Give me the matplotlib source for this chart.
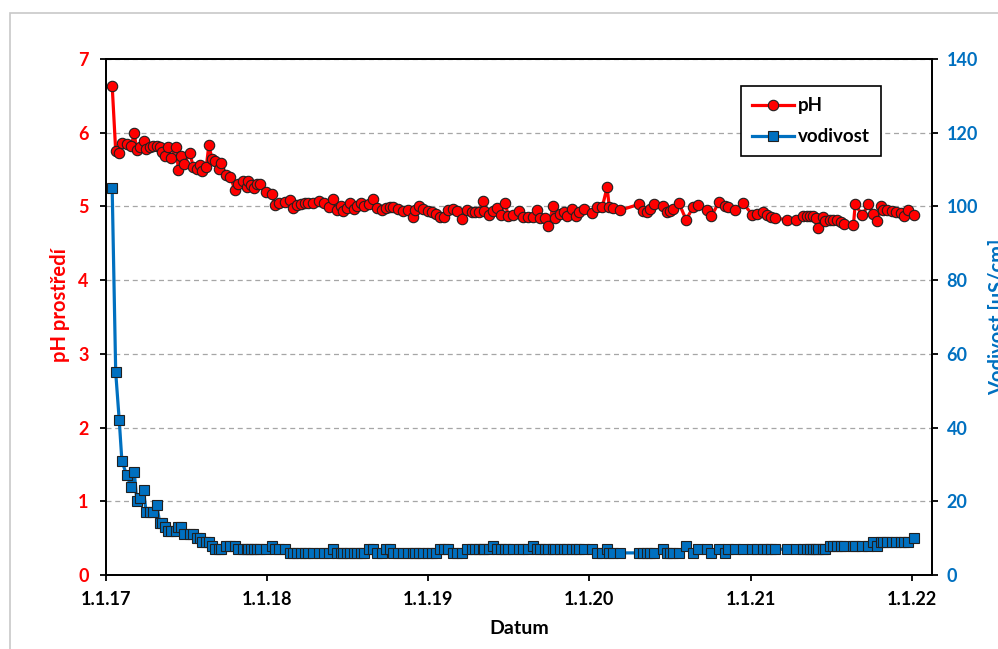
import pandas as pd
import matplotlib.pyplot as plt
from matplotlib.patches import Rectangle

plt.rcParams['font.family'] = ['Lato', 'DejaVu Sans']
plt.rcParams['font.weight'] = 'bold'

# days since 1.1.2017
days = [14, 22, 30, 36, 47, 57, 64, 70, 77, 85, 91, 100, 107, 115, 122, 128, 134, 141, 147, 159,
        164, 169, 177, 190, 198, 206, 213, 218, 227, 233, 240, 247, 255, 261, 272, 282, 292, 300, 310, 319,
        322, 328, 335, 341, 349, 363, 375, 383, 392, 406, 417, 424, 433, 442, 451, 458, 469, 483, 494, 505,
        514, 523, 532, 537, 546, 553, 562, 569, 578, 585, 596, 605, 614, 625, 634, 644, 650, 662, 673, 684,
        696, 700, 709, 718, 730, 739, 748, 757, 766, 775, 786, 795, 807, 818, 829, 836, 845, 854, 857, 868,
        877, 886, 895, 904, 911, 922, 936, 945, 956, 968, 977, 983, 995, 1002, 1013, 1017, 1029, 1038, 1045, 1056,
        1065, 1072, 1083, 1101, 1113, 1124, 1135, 1140, 1149, 1165, 1208, 1217, 1226, 1233, 1242, 1262, 1271, 1278, 1285, 1298,
        1314, 1330, 1341, 1362, 1371, 1389, 1403, 1409, 1425, 1443, 1464, 1475, 1489, 1498, 1507, 1516, 1543, 1563, 1579, 1588,
        1595, 1602, 1609, 1613, 1625, 1629, 1641, 1647, 1656, 1665, 1672, 1693, 1697, 1713, 1727, 1738, 1747, 1756, 1761, 1770,
        1781, 1790, 1801, 1808, 1817, 1831]

ph = [6.64, 5.75, 5.73, 5.86, 5.85, 5.82, 5.99, 5.76, 5.80, 5.89, 5.78, 5.81, 5.82, 5.82, 5.80, 5.74, 5.69, 5.80, 5.66, 5.80,
      5.49, 5.68, 5.58, 5.72, 5.53, 5.51, 5.56, 5.48, 5.53, 5.83, 5.65, 5.61, 5.51, 5.59, 5.42, 5.40, 5.22, 5.30, 5.34, 5.27,
      5.35, 5.29, 5.25, 5.31, 5.30, 5.20, 5.17, 5.02, 5.05, 5.06, 5.09, 4.98, 5.02, 5.03, 5.04, 5.05, 5.05, 5.08, 5.04, 4.99,
      5.10, 4.95, 5.00, 4.94, 4.98, 5.04, 4.96, 5.01, 5.04, 5.01, 5.03, 5.10, 4.98, 4.95, 4.98, 4.99, 4.99, 4.97, 4.94, 4.95,
      4.86, 4.95, 5.00, 4.96, 4.94, 4.92, 4.90, 4.86, 4.86, 4.95, 4.96, 4.94, 4.83, 4.95, 4.93, 4.92, 4.93, 5.08, 4.94, 4.89,
      4.94, 4.98, 4.89, 5.05, 4.87, 4.89, 4.94, 4.86, 4.86, 4.86, 4.95, 4.84, 4.84, 4.73, 5.01, 4.84, 4.90, 4.93, 4.87, 4.96,
      4.87, 4.93, 4.96, 4.91, 4.99, 4.99, 5.26, 4.99, 4.98, 4.95, 5.03, 4.94, 4.93, 4.96, 5.03, 5.01, 4.92, 4.94, 4.96, 5.04,
      4.82, 4.99, 5.02, 4.95, 4.87, 5.06, 5.00, 4.99, 4.95, 5.04, 4.89, 4.90, 4.92, 4.89, 4.85, 4.84, 4.82, 4.81, 4.87, 4.87,
      4.87, 4.87, 4.84, 4.71, 4.85, 4.80, 4.82, 4.81, 4.81, 4.79, 4.76, 4.75, 5.03, 4.88, 5.03, 4.90, 4.80, 5.00, 4.95, 4.95,
      4.94, 4.93, 4.91, 4.87, 4.95, 4.88]

vodivost = [105, 55, 42, 31, 27, 24, 28, 20, 21, 23, 17, 17, 17, 19, 14, 14, 13, 12, 12, 12,
            13, 13, 11, 11, 11, 10, 10, 9, 9, 9, 8, 7, 7, 7, 8, 8, 8, 7, 7, 7,
            7, 7, 7, 7, 7, 7, 8, 7, 7, 7, 6, 6, 6, 6, 6, 6, 6, 6, 6, 6,
            7, 6, 6, 6, 6, 6, 6, 6, 6, 6, 7, 7, 6, 6, 7, 7, 6, 6, 6, 6,
            6, 6, 6, 6, 6, 6, 6, 7, 7, 7, 6, 6, 6, 7, 7, 7, 7, 7, 7, 7,
            8, 7, 7, 7, 7, 7, 7, 7, 7, 8, 7, 7, 7, 7, 7, 7, 7, 7, 7, 7,
            7, 7, 7, 7, 6, 6, 7, 6, 6, 6, 6, 6, 6, 6, 6, 7, 6, 6, 6, 6,
            8, 6, 7, 7, 6, 7, 6, 7, 7, 7, 7, 7, 7, 7, 7, 7, 7, 7, 7, 7,
            7, 7, 7, 7, 7, 7, 8, 8, 8, 8, 8, 8, 8, 8, 8, 9, 8, 9, 9, 9,
            9, 9, 9, 9, 9, 10]

start = pd.Timestamp('2017-01-01')
dates = start + pd.to_timedelta(days, unit='D')

red = '#FF0000'
blue = '#0070C0'

fig = plt.figure(figsize=(9.98, 6.49), dpi=100)
ax = fig.add_axes([0.1062, 0.1140, 0.8277, 0.7951])
ax2 = ax.twinx()

# light grey outer frame (open to the right and bottom)
fig.patches.append(Rectangle((0.010, -0.1), 1.2, 1.08, transform=fig.transFigure,
                             fill=False, edgecolor='#C8C8C8', linewidth=1.2))

ax.yaxis.grid(True, linestyle=(0, (4, 3)), color='#A6A6A6', linewidth=0.9)
ax.set_axisbelow(True)

l1, = ax.plot(dates, ph, color=red, linewidth=2.3, marker='o', markersize=7.5,
              markerfacecolor=red, markeredgecolor='#202020', markeredgewidth=0.8, label='pH')
l2, = ax2.plot(dates, vodivost, color=blue, linewidth=2.3, marker='s', markersize=6.8,
               markerfacecolor=blue, markeredgecolor='#202020', markeredgewidth=0.8, label='vodivost')

ax.set_xlim(pd.Timestamp('2017-01-01'), pd.Timestamp('2022-02-15'))
ax.set_ylim(0, 7)
ax2.set_ylim(0, 140)
ax.set_yticks(range(0, 8))
ax2.set_yticks(range(0, 141, 20))

ticks = [pd.Timestamp(f'{y}-01-01') for y in range(2017, 2023)]
ax.set_xticks(ticks)
ax.set_xticklabels([f'1.1.{y % 100}' for y in range(2017, 2023)])

for a in (ax, ax2):
    for s in a.spines.values():
        s.set_color('black')
        s.set_linewidth(1.3)

ax.tick_params(axis='x', direction='out', length=4.5, width=1.3, labelsize=13, pad=7)
ax.tick_params(axis='y', direction='out', length=4.5, width=1.3, labelsize=13,
               labelcolor=red, pad=8)
ax2.tick_params(axis='y', direction='out', length=4.5, width=1.3, labelsize=13,
                labelcolor=blue, pad=6)

ax.set_xlabel('Datum', fontsize=14, fontweight='bold')
ax.xaxis.set_label_coords(0.5, -0.088)
ax.set_ylabel('pH prostředí', fontsize=14.5, fontweight='bold', color=red)
ax.yaxis.set_label_coords(-0.0436, 0.524)
ax2.set_ylabel('Vodivost [uS/cm]', fontsize=14.5, fontweight='bold', color=blue)
ax2.yaxis.set_label_coords(1.0678, 0.5)

leg = ax2.legend(handles=[l1, l2], loc='upper left', bbox_to_anchor=(0.769, 0.948),
                 fancybox=False, edgecolor='black', framealpha=1, fontsize=13.5,
                 handlelength=2.2, borderpad=0.6, labelspacing=0.75, handletextpad=0.2,
                 borderaxespad=0)
leg.get_frame().set_linewidth(1.2)
for t in leg.get_texts():
    t.set_fontweight('bold')

fig.savefig('out.png', dpi=100)
